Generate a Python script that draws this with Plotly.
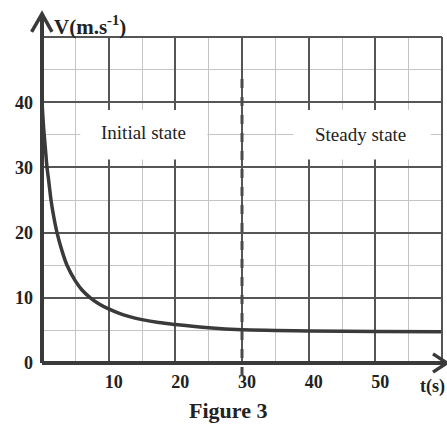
import plotly.graph_objects as go

# ---- data ----
t_vals = [0, 0.25, 0.5, 0.75, 1.0, 1.35, 1.75, 2.25, 3.0, 3.75, 5.0, 6.0, 7.25, 8.5, 10, 11.5, 13, 15, 17.5, 20, 25, 30, 35, 40, 50, 60]
v_vals = [40, 36, 33, 30, 28, 25, 22.5, 20, 17.2, 15, 12.6, 11.2, 10, 9.1, 8.3, 7.65, 7.15, 6.65, 6.2, 5.9, 5.4, 5.1, 5.0, 4.9, 4.85, 4.8]

x_tickvals = [10, 20, 30, 40, 50]
x_ticktext = ["10", "20", "30", "40", "50"]
y_tickvals = [0, 10, 20, 30, 40]
y_ticktext = ["0", "10", "20", "30", "40"]

transition_t = 30
transition_top = 44
labels = [("Initial state", 15.2, 35.3, 5.75, 24.8), ("Steady state", 47.8, 35.0, 37.7, 58.3)]
label_box_v = (31.2, 38.8)

SERIF = "Liberation Serif"
DARK = "#3a3a3a"

fig = go.Figure()
fig.add_trace(go.Scatter(x=t_vals, y=v_vals, mode="lines", line=dict(color=DARK, width=3.5, shape="spline", smoothing=0.8),
                         hoverinfo="skip", showlegend=False))

shapes = []
# white patches behind the region labels (cover grid)
for _, _, _, x0, x1 in labels:
    shapes.append(dict(type="rect", xref="x", yref="y", x0=x0, x1=x1, y0=label_box_v[0], y1=label_box_v[1],
                       fillcolor="white", line=dict(width=0), layer="between"))
# major grid lines at the far edges (top / right borders)
shapes.append(dict(type="line", xref="paper", yref="paper", x0=0, x1=1, y0=1, y1=1, line=dict(color="#555", width=2), layer="above"))
shapes.append(dict(type="line", xref="paper", yref="paper", x0=1, x1=1, y0=0, y1=1, line=dict(color="#555", width=2), layer="above"))
# dashed transition line
shapes.append(dict(type="line", xref="x", yref="paper", x0=transition_t, x1=transition_t, y0=-0.04, y1=transition_top / 50,
                   line=dict(color="#4a4a4a", width=3, dash="dash"), layer="above"))
# axes with arrows
shapes.append(dict(type="line", xref="paper", yref="paper", x0=0, x1=1.012, y0=0, y1=0, line=dict(color=DARK, width=4), layer="above"))
shapes.append(dict(type="line", xref="paper", yref="paper", x0=0, x1=0, y0=0, y1=1.07, line=dict(color=DARK, width=4), layer="above"))
shapes.append(dict(type="path", xref="paper", yref="paper", path="M 0.9775 0.028 L 1.0125 0 L 0.9775 -0.028",
                   line=dict(color=DARK, width=3.5), layer="above"))
shapes.append(dict(type="path", xref="paper", yref="paper", path="M -0.026 1.016 L 0 1.071 L 0.025 1.016",
                   line=dict(color=DARK, width=3.5), layer="above"))

annotations = []
for text, tx, ty, _, _ in labels:
    annotations.append(dict(text=text, x=tx, y=ty, xref="x", yref="y", showarrow=False,
                            font=dict(family=SERIF, size=19, color="#222")))
annotations.append(dict(text="V(m.s<sup>-1</sup>)", x=0.025, y=1.035, xref="paper", yref="paper", xanchor="left", yanchor="middle",
                        showarrow=False, font=dict(family=SERIF, size=21, color="#222", weight="bold")))
annotations.append(dict(text="t(s)", x=0.94, y=-0.072, xref="paper", yref="paper", xanchor="left", yanchor="middle",
                        showarrow=False, font=dict(family=SERIF, size=18, color="#222", weight="bold")))
annotations.append(dict(text="Figure 3", x=0.465, y=-0.145, xref="paper", yref="paper", xanchor="center", yanchor="middle",
                        showarrow=False, font=dict(family=SERIF, size=22, color="#222", weight="bold")))

fig.update_layout(
    width=447, height=426,
    margin=dict(l=42, r=5, t=37, b=63, pad=0),
    paper_bgcolor="white", plot_bgcolor="white",
    shapes=shapes, annotations=annotations,
    xaxis=dict(range=[0, 60], tickmode="array", tickvals=x_tickvals, ticktext=x_ticktext,
               showgrid=True, gridcolor="#555", gridwidth=1.8, zeroline=False, showline=False, ticks="",
               ticklabelstandoff=6, ticklabelshift=5,
               tickfont=dict(family=SERIF, size=18, color="#222", weight="bold"),
               minor=dict(dtick=5, tick0=0, showgrid=True, gridcolor="#c4c4c4", gridwidth=1.2)),
    yaxis=dict(range=[0, 50], tickmode="array", tickvals=y_tickvals, ticktext=y_ticktext,
               showgrid=True, gridcolor="#555", gridwidth=1.8, zeroline=False, showline=False, ticks="",
               ticklabelstandoff=8,
               tickfont=dict(family=SERIF, size=18, color="#222", weight="bold"),
               minor=dict(dtick=5, tick0=0, showgrid=True, gridcolor="#c4c4c4", gridwidth=1.2)),
)

fig.write_html("out.html")
